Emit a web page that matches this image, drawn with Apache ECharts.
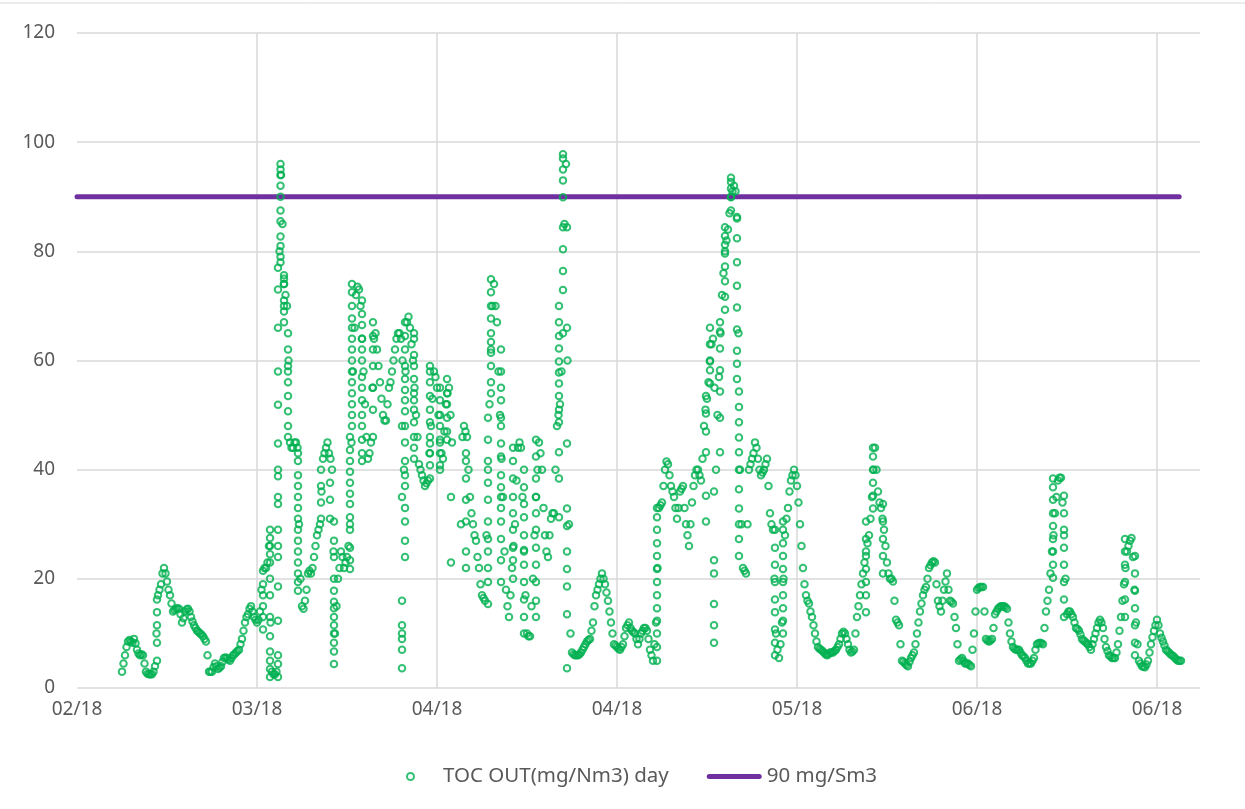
<!DOCTYPE html>
<html>
<head>
<meta charset="utf-8">
<title>TOC OUT</title>
<script src="https://cdn.jsdelivr.net/npm/echarts@6/dist/echarts.min.js"></script>
<style>
    html, body { margin: 0; padding: 0; background: #fff; }
    #chart { width: 1245px; height: 809px; }
</style>
</head>
<body>
<div id="chart"></div>
<script>
    // tick labels on the x axis, one every 30 days
    var xLabels = ['02/18', '03/18', '04/18', '04/18', '05/18', '06/18', '06/18'];
    var xStep = 30;

    // limit line
    var limitName = '90 mg/Sm3';
    var limitValue = 90;
    var limitRange = [0, 183.7];

    // TOC readings, one every half day starting at day 7.5 (null = no reading)
    var seriesName = 'TOC OUT(mg/Nm3) day';
    var firstDay = 7.5;
    var stepDay = 0.5;
    var tocBase = [
        3, 6, 8.5, 8.5, 9, 7, 6, 6, 3, 2.5,
        2.5, 4, 17, 19, 22, 19.5, 17, 14, 14.5, 14.5,
        12, 14, 14.5, 13, 11.5, 10.5, 10, 9.5, 8.5, 3,
        3, 4.5, 3.5, 4, 5.5, 5.5, 5, 6, 6.5, 7,
        9, 12, 13.5, 15, 13, 12, 14, 21.5, 22, 26,
        3, 2.5, 40, 94, 74, 70, 45, 44, 45, 30,
        15, 16, 21, 21, 24, 28, 30, 42, 44, 43,
        40, 10, 20, 25, 22, 24, 30, 58, 72, 73,
        64, 52, 42, 45, 64, 62, 56, 50, 49, 55,
        58, 62, 65, 64, 40, 67, 66, 60, 50, 41,
        39, 37, 38, 48, 58, 55, 45, 42, 52, 55,
        45, null, null, 30, 48, 46, 35, 30, 27, 22,
        17, 16, 40, 62, 74, 67, 50, 35, 18, 13,
        22, 30, 44, 44, 25, 10, 9.5, 20, 35, 45,
        40, 28, 24, 31, 32, 48, 52, 65, 96, 30,
        6.5, 6, 6, 6.5, 7.5, 8.5, 9, 12, 17, 19,
        21, 19, 16, 12, 8, 7.5, 7, 8, 11, 12,
        10.5, 10, 8, 10, 11, 10.5, 7, 5, 12, 33,
        34, 40, 41, 37, 35, 31, 36, 37, 30, 26,
        34, 39, 40, 38, 48, 53, 60, 64, 40, 57,
        72, 80, 84, 90, 92, 86, 40, 22, 21, 40,
        42, 45, 42, 39, 40, 42, 32, 29, 10, 5.5,
        12, 28, 33, 38, 40, 37, 30, 22, 17, 15.5,
        13, 10, 7.5, 7, 6.5, 6, 6.5, 6.5, 7, 8,
        10, 10, 8, 6.5, 7, 13, 17, 21, 25, 28,
        35, 44, 36, 33, 29, 23, 20, 19.5, 12.5, 11.5,
        5, 4.5, 4, 5.5, 6.5, 10, 14, 17, 18.5, 22,
        23, 23, 16, 14, 18, 21, 16, 15.5, 11, 5,
        5.5, 4.5, 4.5, 4, 10, 18, 18.5, 18.5, 9, 8.5,
        9, 13.5, 14.5, 15, 15, 14.5, 10, 7.5, 7, 7,
        6, 5.5, 4.5, 4.5, 5.5, 8, 8.3, 8, 14, 18,
        25, 32, 38, 38.5, 28, 13.5, 14, 13, 11, 10.5,
        9, 8.5, 8, 7, 9, 11, 12.5, 11, 7.5, 6,
        5.5, 5.5, 8, 13, 19, 25, 27, 24, 12, 5,
        4, 3.8, 5, 8, 10.5, 12.5, 10, 8.5, 7, 6.5,
        6, 5.5, 5, 5
    ];

    // readings a quarter day later than each of the ones above
    var firstDayBetween = 7.75;
    var tocBetween = [
        4.5, 7.5, 8.8, 8.3, 8.2, 6.3, 6.2, 4.5, 2.6, 2.5,
        3, 10, 18, 21, 21, 18, 15.5, 14.3, 14.6, 13.5,
        12.8, 14.4, 14, 12.2, 11, 10.3, 9.8, 9, 6, 3,
        3.8, 4, 3.7, 4.8, 5.6, 5.2, 5.5, 6.2, 6.8, 8,
        10.5, 13, 14.5, 14, 12.5, 12.5, 18, 22, 23, 12,
        2.5, 3, 80, 85, 72, 60, 44, 45, 44, 20,
        14.5, 18, 21.5, 22, 26, 29, 36, 43, 45, 42,
        25, 15, 22, 24, 23, 26, 45, 66, 73.5, 70,
        58, 46, 43, 55, 65, 59, 53, 49, 52, 56,
        60, 64, 65, 60, 58, 68, 63, 55, 46, 40,
        38, 37.5, 43, 53, 57, 50, 43, 47, 54, 50,
        null, null, null, 46, 47, 40, 32, 28, 24, 19,
        16.5, 28, 52, 70, 70, 58, 42, 25, 15, 17,
        26, 38, 45, 35, 17, 9.5, 15, 28, 40, 43,
        33, 25, 28, 32, 40, 50, 58, 85, 60, 10,
        6.2, 6, 6.2, 7, 8, 8.8, 10.5, 15, 18, 20,
        20, 17.5, 14, 10, 7.8, 7.2, 7.5, 9.5, 11.5, 11,
        10.2, 9, 9, 10.5, 11, 9, 6, 8, 22, 33.5,
        37, 41.5, 39, 36, 33, 33, 36.5, 33, 28, 30,
        37, 40, 39, 42, 51, 56, 63, 55, 50, 65,
        76, 82, 87, 91, 91, 65, 30, 21.5, 30, 41,
        43, 44, 40, 39.5, 41, 37, 30, 20, 7, 8,
        20, 31, 36, 39, 39, 34, 26, 19, 16, 14,
        11.5, 8.5, 7.2, 6.8, 6.2, 6.2, 6.5, 6.8, 7.5, 9,
        10.3, 9, 7, 6.7, 10, 15, 19, 23, 26.5, 31,
        40, 40, 34, 31, 26, 21, 20, 16, 12, 8,
        4.8, 4.2, 4.8, 6, 8, 12, 15.5, 18, 20, 22.5,
        23.2, 19, 15, 16, 19.5, 18, 15.8, 13, 8, 5.2,
        5, 4.5, 4.2, 7, 14, 18.3, 18.5, 14, 8.7, 8.7,
        11, 14, 14.8, 15, 14.8, 12, 8.5, 7.2, 7, 6.5,
        5.8, 5, 4.5, 5, 7, 8.2, 8.2, 11, 16, 21,
        28, 35, 38.5, 34, 20, 14, 13.5, 12, 10.8, 9.8,
        8.7, 8.2, 7.5, 8, 10, 12, 12, 9, 6.8, 5.8,
        5.5, 6.5, 10.5, 16, 22, 26, 27.5, 18, 8, 4.5,
        3.9, 4.3, 6.5, 9.3, 11.5, 11.5, 9.2, 7.8, 6.8, 6.2,
        5.8, 5.2, 5
    ];

    // extra readings in the steep stretches: [day, [values]]
    var tocColumns = [
        [13.33, [5, 8.3, 11.5, 13.9, 16.2]],
        [31.0, [19, 17, 15, 13, 10.7]],
        [32.17, [29, 27.5, 26, 24.5, 23, 20, 17, 13, 9.5, 6.7, 5, 3.5, 2]],
        [33.5, [2, 4.4, 6, 12.3, 18.6, 24, 26, 29, 33.7, 35, 38.8, 44.8, 51.9, 58, 66, 73, 77]],
        [33.92, [96, 95, 94, 92, 90, 87.5, 85.5, 82.7, 81, 79, 78]],
        [34.5, [75.6, 75, 74, 71, 70, 69, 67]],
        [35.17, [65, 62, 59, 58, 56, 53.5, 50.7, 48, 46]],
        [36.83, [43, 41.6, 39, 37, 35, 33, 31, 29, 27, 25, 23, 21, 19.4, 17.8]],
        [40.67, [31, 34, 37, 40]],
        [42.17, [37.6, 34.5, 31]],
        [42.83, [30.5, 27, 24, 20, 17.8, 15.8, 14.6, 13, 11.5, 10, 8.3, 6.7, 4.4]],
        [45.5, [21.8, 23.4, 25.7, 29, 31.3, 33.7, 35.6, 37.6, 39.6, 41.6, 43.6, 46]],
        [45.83, [48, 50, 52, 54, 56, 58, 60, 62, 64, 66, 67.7, 70, 72.5, 74]],
        [47.5, [71, 68.5, 66.5, 64, 62, 60, 57, 55, 52.7, 50, 48, 45.5, 43, 41.6]],
        [49.33, [46, 51, 55, 59, 62, 64.5, 67]],
        [54.17, [48, 35, 16, 11.5, 10, 9, 7, 3.6]],
        [54.67, [24, 27, 30.5, 33, 37, 39, 41.6, 45, 48, 50.7, 52.7, 54.6, 56.6, 59, 62, 64.5, 67]],
        [56.17, [65, 64, 61, 59, 56.6, 54, 52.7, 51, 48.7, 46, 44, 42]],
        [58.83, [38.4, 40.8, 43, 44.8, 46, 48.7, 51, 53.5, 56, 58, 59]],
        [60.5, [55, 52.7, 50, 48, 45.5, 43, 40.8, 40]],
        [61.67, [56.6, 54, 52, 49.5, 47, 45.5]],
        [62.33, [35, 23]],
        [64.83, [43, 41.6, 38.4, 34.5, 30.5, 25, 22]],
        [68.5, [15.4, 19.4, 22, 25, 27.3, 30.5, 34.5, 37.6, 41.6, 45.5, 49.5]],
        [69.0, [54, 56, 59, 61.4, 63.4, 65, 67.7, 70, 72.5, 74.9]],
        [70.67, [62, 58, 55, 52.7, 49.5, 48, 44.8, 42.4, 39, 36.8, 35, 33, 30.5, 27.3, 23.4, 19.4]],
        [72.67, [20, 23.4, 25.7, 29, 32, 35, 38.4, 41.6, 44]],
        [74.5, [40, 36.8, 33.7, 31.3, 28, 25.3, 22.6, 19.4, 16.2, 13, 10]],
        [76.5, [13, 16, 19.4, 22.6, 25.7, 29, 32, 35, 38.4, 42.4, 45.5]],
        [80.33, [31.3, 38.4, 43.2, 48.7, 51, 53.5, 55.8, 57.8, 59.8, 62.2, 64.5, 67, 70]],
        [81.0, [72.9, 76.4, 80.4, 84.4, 89.9, 93, 95, 97, 97.8]],
        [81.67, [84.4, 66, 44.8, 32.9, 29.7, 25, 21.8, 18.6, 13.5, 3.6]],
        [96.67, [5, 7.5, 10, 12.3, 14.6, 17, 19.4, 21.8, 24.2, 26.5, 29, 31.3, 33]],
        [104.83, [30.5, 35.2, 43.2, 47, 50.3, 53.5]],
        [105.5, [55.8, 58.2, 59.8, 63, 66]],
        [106.17, [23.4, 15.4, 11.5, 8.3, 36, 21]],
        [107.17, [43.2, 49.5, 54.3, 58.2, 62.2, 65.3, 67]],
        [108.0, [69.3, 71.7, 74.5, 77.2, 79.6, 81.2, 82.8, 84.4]],
        [109.0, [87.5, 89.9, 91.5, 92.7, 93.5]],
        [110.0, [86.3, 82.4, 78, 73.7, 69.7, 65.7, 61.8, 59.4, 56.6]],
        [110.33, [54.3, 51.5, 48.7, 45.9, 43.2, 40, 36.4, 32.9, 30, 27.3, 24.2]],
        [116.33, [29, 25.7, 22.6, 19.4, 16.2, 13.9, 10.7, 8.3, 6]],
        [117.67, [10, 12.3, 14.6, 17, 19.4, 21.8, 24.2, 26.5, 29, 30.5]],
        [131.5, [13.9, 17, 19.4, 21.8, 24.2, 27.3, 30.5]],
        [132.67, [32.9, 35.2, 37.6, 40, 42.4, 44]],
        [134.33, [33.7, 30.5, 27.3, 24.2, 21]],
        [162.67, [20.2, 22.6, 25, 27.3, 29.7, 32, 34.5, 36.8, 38.4]],
        [164.5, [35.2, 32, 29, 25.7, 22.6, 19.4, 16.2, 13]],
        [174.67, [13, 16.2, 19.4, 22.6, 25, 27.3]],
        [176.33, [24.2, 21, 17.8, 14.6, 11.5, 8.3, 6]]
    ];

    var tocPoints = [];
    tocBase.forEach(function (v, i) {
        if (v !== null) tocPoints.push([firstDay + i * stepDay, v]);
    });
    tocBetween.forEach(function (v, i) {
        if (v !== null) tocPoints.push([firstDayBetween + i * stepDay, v]);
    });
    tocColumns.forEach(function (c) {
        c[1].forEach(function (v) {
            tocPoints.push([c[0], v]);
        });
    });

    var textColor = '#595959';
    var gridColor = '#d9d9d9';
    var fontFamily = '"Noto Sans", "Open Sans", sans-serif';

    var chart = echarts.init(document.getElementById('chart'));
    var option = {
        animation: false,
        backgroundColor: '#fff',
        textStyle: { fontFamily: fontFamily },
        graphic: [{
            type: 'line',
            shape: { x1: 0, y1: 3, x2: 1245, y2: 3 },
            style: { stroke: gridColor, lineWidth: 1 }
        }],
        grid: {
            left: 77,
            right: 45,
            top: 33,
            bottom: 121
        },
        legend: {
            top: 761,
            left: 401,
            itemGap: 38,
            itemWidth: 55,
            itemHeight: 7,
            textStyle: { color: textColor, fontSize: 20.5, fontFamily: fontFamily },
            data: [seriesName, {
                name: limitName,
                // rounded bar, 55 x 5
                icon: 'path://M2.5,0 H52.5 A2.5,2.5 0 0 1 52.5,5 H2.5 A2.5,2.5 0 0 1 2.5,0 Z',
                itemStyle: { color: '#7030A0' }
            }]
        },
        xAxis: {
            type: 'value',
            min: 0,
            max: 187.17,
            interval: xStep,
            axisLine: { show: false },
            axisTick: { show: false },
            axisLabel: {
                color: textColor,
                fontSize: 19,
                margin: 12,
                showMaxLabel: false,
                formatter: function (value) {
                    if (value % xStep !== 0) return '';
                    return xLabels[value / xStep] || '';
                }
            },
            splitLine: {
                show: true,
                lineStyle: {
                    width: 1.5,
                    // no line at the left edge or at the right end of the axis
                    color: ['rgba(0,0,0,0)', gridColor, gridColor, gridColor, gridColor, gridColor, gridColor, 'rgba(0,0,0,0)']
                }
            }
        },
        yAxis: {
            type: 'value',
            min: 0,
            max: 120,
            interval: 20,
            axisLine: { show: false },
            axisTick: { show: false },
            axisLabel: { color: textColor, fontSize: 19, margin: 22 },
            splitLine: { lineStyle: { color: gridColor, width: 1.5 } }
        },
        series: [{
            name: seriesName,
            type: 'scatter',
            z: 3,
            symbol: 'circle',
            symbolSize: 6.5,
            itemStyle: {
                color: 'rgba(0,0,0,0)',
                borderColor: '#00B050',
                borderWidth: 2
            },
            data: tocPoints
        }, {
            name: limitName,
            type: 'line',
            z: 2,
            symbol: 'none',
            lineStyle: { color: '#7030A0', width: 5, cap: 'round' },
            itemStyle: { color: '#7030A0' },
            data: [[limitRange[0], limitValue], [limitRange[1], limitValue]]
        }]
    };
    chart.setOption(option);
</script>
</body>
</html>
